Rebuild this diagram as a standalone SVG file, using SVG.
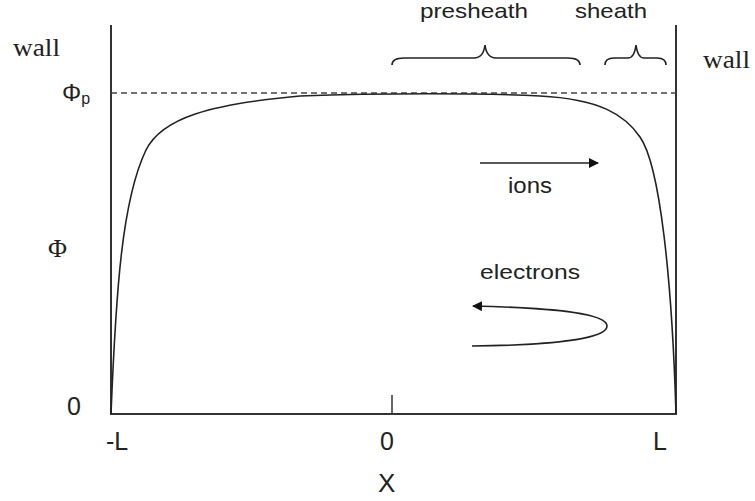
<svg xmlns="http://www.w3.org/2000/svg" width="755" height="501" viewBox="0 0 755 501">
<defs>
<style>
.ax{stroke:#333;stroke-width:2;fill:none}
.ln{stroke:#222;stroke-width:1.6;fill:none}
.dash{stroke:#444;stroke-width:1.5;stroke-dasharray:6 4;fill:none}
.sans{font-family:"Liberation Sans",Arial,sans-serif;fill:#222}
.serif{font-family:"Liberation Serif","Times New Roman",serif;fill:#222}
</style>
<marker id="ah" viewBox="0 0 10 10" refX="9" refY="5" markerWidth="10" markerHeight="10" markerUnits="userSpaceOnUse" orient="auto">
<path d="M0,0 L10,5 L0,10 z" fill="#111"/>
</marker>
</defs>
<rect width="755" height="501" fill="#fff"/>
<g id="axes">
<path class="ax" d="M111,25 L111,414 L676,414 L676,25"/>
<path class="ax" d="M392,395 L392,414" style="stroke-width:1.5"/>
<path class="dash" d="M111,93 L676,93"/>
</g>
<g id="curve">
<path class="ln" d="M111,414 C116,290 122,200 146,150 C162,118 210,104 300,96 C380,93 480,93 540,96 C600,99 625,115 640,137 C660,165 672,280 676,414"/>
</g>
<g id="braces">
<path class="ln" d="M392,65 C392,61 396,58 404,58 L474,58 C481,58 484,53 485,45 C486,53 489,58 496,58 L568,58 C576,58 580,61 580,65"/>
<path class="ln" d="M605,65 C605,61 608,58 614,58 L628,58 C633,58 635,53 636,45 C637,53 639,58 644,58 L657,58 C663,58 666,61 666,65"/>
</g>
<g id="connectors">
<path class="ln" d="M480,163 L598,163" marker-end="url(#ah)"/>
<path class="ln" d="M472,346 C560,345 607,338 607,326 C607,314 560,308 473,306" marker-end="url(#ah)"/>
</g>
<g id="labels">
<text class="serif" x="13" y="56" font-size="25" textLength="47" lengthAdjust="spacingAndGlyphs">wall</text>
<text class="serif" x="703" y="68" font-size="25" textLength="47" lengthAdjust="spacingAndGlyphs">wall</text>
<text class="sans" x="62" y="101" font-size="24">Φ<tspan font-size="16" dy="3">p</tspan></text>
<text class="serif" x="48" y="257" font-size="26">Φ</text>
<text class="sans" x="67" y="415" font-size="25">0</text>
<text class="sans" x="106" y="450" font-size="25">-L</text>
<text class="sans" x="380" y="450" font-size="25">0</text>
<text class="sans" x="653" y="450" font-size="25">L</text>
<text class="sans" x="378" y="492" font-size="26">X</text>
<text class="sans" x="420" y="18" font-size="21" textLength="108" lengthAdjust="spacingAndGlyphs">presheath</text>
<text class="sans" x="575" y="18" font-size="21" textLength="72" lengthAdjust="spacingAndGlyphs">sheath</text>
<text class="sans" x="508" y="193" font-size="22" textLength="44" lengthAdjust="spacingAndGlyphs">ions</text>
<text class="sans" x="480" y="279" font-size="21" textLength="100" lengthAdjust="spacingAndGlyphs">electrons</text>
</g>
</svg>
